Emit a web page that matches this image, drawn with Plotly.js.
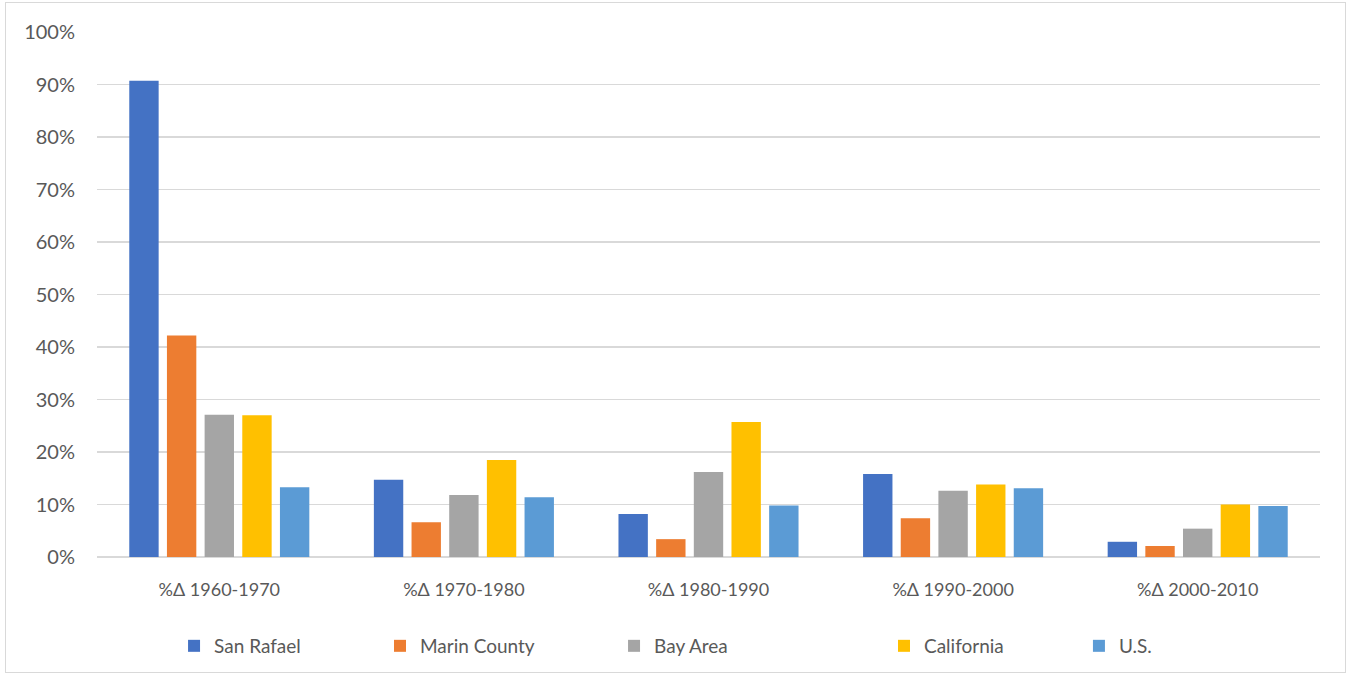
<!DOCTYPE html>
<html>
<head>
<meta charset="utf-8">
<script src="https://cdn.plot.ly/plotly-3.0.1.min.js"></script>
<style>
  html, body { margin: 0; padding: 0; background: #fff; }
  #chart { position: absolute; left: 5px; top: 2px; width: 1341px; height: 671px; border: 1px solid #d9d9d9; box-sizing: border-box; }
</style>
</head>
<body>
<div id="chart"></div>
<script>
const categories = ["%Δ 1960-1970", "%Δ 1970-1980", "%Δ 1980-1990", "%Δ 1990-2000", "%Δ 2000-2010"];
const seriesNames = ["San Rafael", "Marin County", "Bay Area", "California", "U.S."];
const sanRafael   = [0.907, 0.147, 0.082, 0.158, 0.029];
const marinCounty = [0.422, 0.066, 0.034, 0.074, 0.021];
const bayArea     = [0.271, 0.118, 0.162, 0.126, 0.054];
const california  = [0.270, 0.185, 0.257, 0.138, 0.100];
const us          = [0.133, 0.114, 0.098, 0.131, 0.097];
const yTicks = [0, 0.1, 0.2, 0.3, 0.4, 0.5, 0.6, 0.7, 0.8, 0.9, 1.0];

const seriesValues = [sanRafael, marinCounty, bayArea, california, us];
const colors = ["#4472C4", "#ED7D31", "#A5A5A5", "#FFC000", "#5B9BD5"];
const legendIds = ["legend", "legend2", "legend3", "legend4", "legend5"];
const legendX = [0.1255, 0.2793, 0.4541, 0.6557, 0.8013];

const fontFam = "Lato, 'Open Sans', sans-serif";
const txtColor = "#595959";

const data = seriesValues.map((vals, i) => ({
  type: "bar",
  name: seriesNames[i],
  x: categories,
  y: vals,
  marker: { color: colors[i] },
  legend: legendIds[i],
  hoverinfo: "x+y+name"
}));

const layout = {
  width: 1339,
  height: 669,
  margin: { l: 91, r: 25, t: 29, b: 115 },
  paper_bgcolor: "#ffffff",
  plot_bgcolor: "#ffffff",
  font: { family: fontFam, size: 18, color: txtColor },
  barmode: "group",
  bargap: 0.23,
  bargroupgap: 0.22,
  xaxis: {
    type: "category",
    showgrid: false,
    showline: false,
    ticks: "",
    ticklabelstandoff: 20,
    tickfont: { family: fontFam, size: 18, color: txtColor }
  },
  yaxis: {
    range: [0, 1],
    tickvals: yTicks,
    tickformat: ".0%",
    showgrid: true,
    gridcolor: "#d9d9d9",
    gridwidth: 1.5,
    zeroline: true,
    zerolinecolor: "#d9d9d9",
    zerolinewidth: 1.5,
    showline: false,
    ticks: "",
    ticklabelstandoff: 21,
    tickfont: { family: fontFam, size: 20, color: txtColor }
  },
  showlegend: true
};

legendIds.forEach((id, i) => {
  layout[id] = {
    orientation: "h",
    xref: "container",
    yref: "container",
    x: legendX[i],
    xanchor: "left",
    y: 0.0389,
    yanchor: "middle",
    font: { family: fontFam, size: 19, color: txtColor },
    bgcolor: "rgba(0,0,0,0)",
    borderwidth: 0
  };
});

Plotly.newPlot("chart", data, layout, { displayModeBar: false, staticPlot: true });
</script>
</body>
</html>
